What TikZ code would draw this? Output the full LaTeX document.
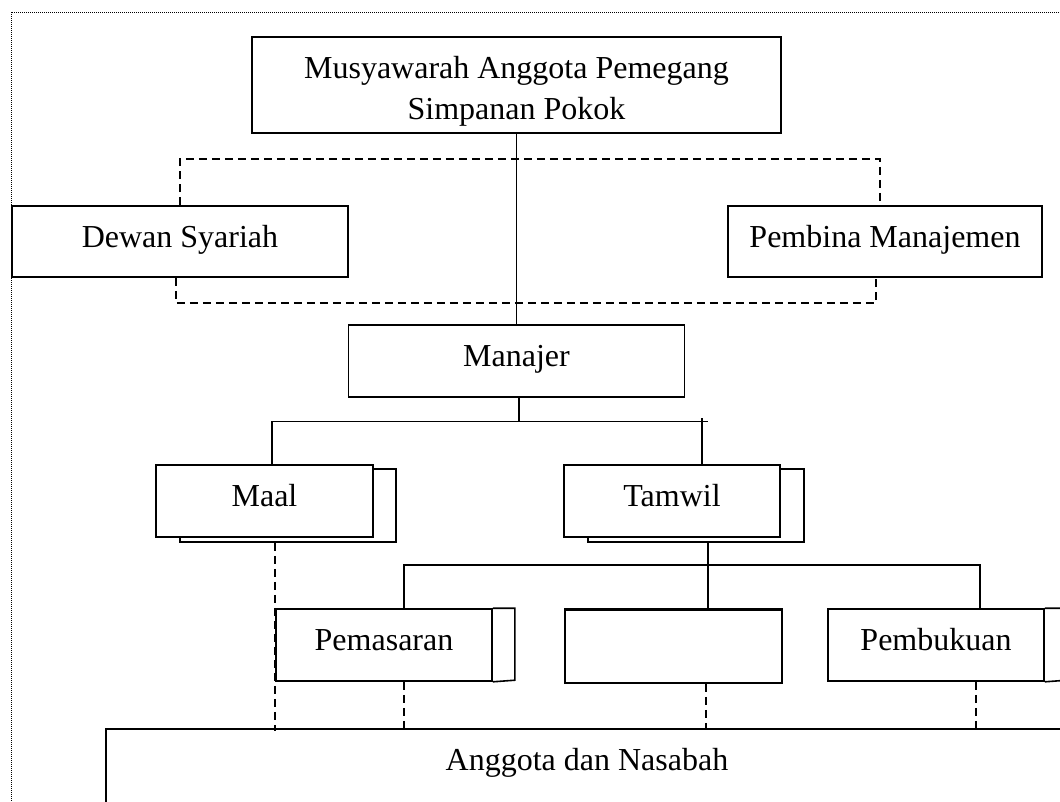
\documentclass[tikz,border=0pt]{standalone}
\usepackage{fontspec}
\setmainfont{Liberation Serif}
\begin{document}
\begin{tikzpicture}[x=1pt,y=-1pt,
  box/.style={draw, line width=1.6pt, inner sep=0pt, fill=white,
    font=\fontsize{32}{41}\selectfont, text height=20pt, text depth=9pt},
  shadowbox/.style={draw, line width=1.6pt, inner sep=0pt, fill=white},
  conn/.style={line width=1.4pt},
  dconn/.style={line width=1.4pt, dash pattern=on 8pt off 5pt},
  border/.style={line width=1pt, dash pattern=on 1pt off 1pt}]
\clip (0,0) rectangle (1060,801);
\draw[border] (11,12) rectangle (1075,815);

% boxes
\node[box, minimum width=529pt, minimum height=96pt, align=center,
      text height=77pt, text depth=9pt] (mus) at (516.5,85)
      {Musyawarah Anggota Pemegang\\Simpanan Pokok};
\node[box, minimum width=336pt, minimum height=71pt] (dewan) at (180,241.5) {Dewan Syariah};
\node[box, minimum width=314pt, minimum height=71pt] (pembina) at (885,241.5) {Pembina Manajemen};
\node[box, minimum width=336pt, minimum height=72pt] (man) at (516.5,361) {Manajer};

\node[shadowbox, minimum width=216pt, minimum height=73pt] (maalS) at (288,505.5) {};
\node[box, minimum width=217pt, minimum height=72pt] (maal) at (264.5,501) {Maal};
\node[shadowbox, minimum width=216pt, minimum height=73pt] (tamwilS) at (696,505.5) {};
\node[box, minimum width=216pt, minimum height=72pt] (tamwil) at (672,501) {Tamwil};

\node[box, minimum width=216pt, minimum height=72pt] (pem) at (384,645) {Pemasaran};
\draw[line width=1.6pt] (pem.north east) -- ++(22,0) -- ++(0,72) -- (pem.south east);
\node[box, minimum width=217pt, minimum height=73pt] (kosong) at (673.5,646.5) {};
\draw[line width=2.6pt] (kosong.north west) -- (kosong.north east);
\node[box, minimum width=216pt, minimum height=72pt] (pbk) at (936,645) {Pembukuan};
\draw[line width=1.6pt] (pbk.north east) -- ++(22,0) -- ++(0,72) -- (pbk.south east);

\node[box, minimum width=962pt, minimum height=80pt, text height=20pt, text depth=18pt]
  (ang) at (587,769) {Anggota dan Nasabah};

% coordinates
\coordinate (pa) at (880,159);
\coordinate (pb) at (176,303);
\coordinate (pc) at (876,303);
\coordinate (m1) at (519,421.5);
\coordinate (bl) at (272,421.5);
\coordinate (br) at (702,421.5);
\coordinate (br2) at (708,421.5);
\coordinate (brt) at (702,418);
\coordinate (t1) at (708,565);
\coordinate (hl) at (404,565);
\coordinate (hr) at (980,565);
\coordinate (d1) at (275,731);
\coordinate (d2) at (706,729);
\coordinate (d3) at (976,729);

% solid connectors
\draw[conn] (mus.south) -- (mus.south |- man.north);
\draw[conn] (m1 |- man.south) -- (m1);
\draw[conn] (maal.north -| bl) -- (bl) -- (br2);
\draw[conn] (brt) -- (tamwil.north -| br);
\draw[conn] (tamwilS.south -| t1) -- (kosong.north -| t1);
\draw[conn] (pem.north -| hl) -- (hl) -- (hr) -- (pbk.north -| hr);

% dashed connectors
\draw[dconn] (dewan.north) |- (pa) -- (pa |- pembina.north);
\draw[dconn] (pb |- dewan.south) -- (pb) -- (pc) -- (pc |- pembina.south);
\draw[dconn] (maalS.south -| d1) -- (d1);
\draw[dconn] (pem.south -| hl) -- (ang.north -| hl);
\draw[dconn] (kosong.south -| d2) -- (d2);
\draw[dconn] (pbk.south -| d3) -- (d3);
\end{tikzpicture}
\end{document}
